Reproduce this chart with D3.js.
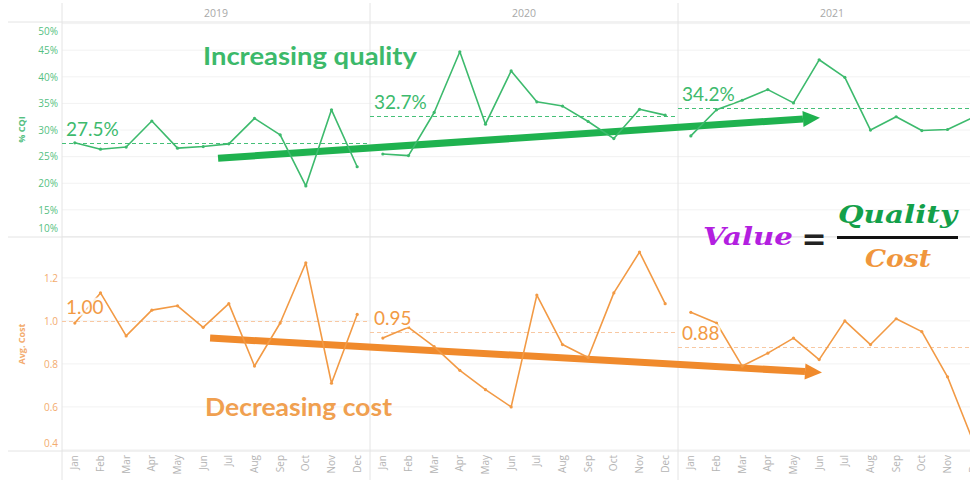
<!DOCTYPE html>
<html>
  <head>
    <meta charset="utf-8">
    <title>Value = Quality / Cost</title>
    <script src="https://cdnjs.cloudflare.com/ajax/libs/d3/7.8.5/d3.min.js"></script>
    <style>
      body { margin: 0; background: #fff; }
    </style>
  </head>
  <body>
    <div id="vis"></div>
    <script>
      var years = ['2019', '2020', '2021'];
      var months = ['Jan', 'Feb', 'Mar', 'Apr', 'May', 'Jun', 'Jul', 'Aug', 'Sep', 'Oct', 'Nov', 'Dec'];

      // % CQI per month, one array per year
      var quality2019 = [27.6, 26.4, 26.8, 31.7, 26.6, 26.9, 27.4, 32.2, 29.1, 19.5, 33.8, 23.1];
      var quality2020 = [25.5, 25.2, 33.3, 44.7, 31.1, 41.1, 35.3, 34.5, 31.6, 28.4, 33.9, 32.8];
      var quality2021 = [28.9, 33.8, 35.6, 37.6, 35.1, 43.2, 39.9, 30.0, 32.5, 29.9, 30.1, 32.4];
      var qualityAvg = [27.5, 32.7, 34.2];

      // average cost per month
      var cost2019 = [0.99, 1.13, 0.93, 1.05, 1.07, 0.97, 1.08, 0.79, 0.99, 1.27, 0.71, 1.03];
      var cost2020 = [0.92, 0.97, 0.88, 0.77, 0.68, 0.60, 1.12, 0.89, 0.83, 1.13, 1.32, 1.08];
      var cost2021 = [1.04, 0.99, 0.79, 0.85, 0.92, 0.82, 1.00, 0.89, 1.01, 0.95, 0.74, 0.44];
      var costAvg = [1.00, 0.95, 0.88];

      var qualityTicks = [10, 15, 20, 25, 30, 35, 40, 45, 50];
      var costTicks = [0.4, 0.6, 0.8, 1.0, 1.2];

      // trend arrows, in (year, month index, value)
      var qualityTrend = [['2019', 5.58, 24.7], ['2021', 5.03, 32.3]];
      var costTrend = [['2019', 5.27, 0.92], ['2021', 5.11, 0.76]];

      var qualitySeries = [quality2019, quality2020, quality2021];
      var costSeries = [cost2019, cost2020, cost2021];

      var W = 970, H = 480, left = 62;
      var green = '#3dba6d', greenLight = '#55bf82', greenDark = '#1fb24f';
      var orange = '#f29a45', orangeLight = '#f3ab6e', orangeDark = '#f08a2c';

      var svg = d3.select('#vis').append('svg')
        .attr('width', W).attr('height', H)
        .attr('font-family', 'Open Sans, sans-serif');

      var xYear = d3.scaleBand().domain(years).range([left, left + 3 * 308]);
      var xMonth = d3.scalePoint().domain(months).range([0, xYear.bandwidth()]).padding(0.5);
      var yQ = d3.scaleLinear().domain([9.9, 50.3]).range([237, 22]);
      var yC = d3.scaleLinear().domain([0.395, 1.39]).range([451, 237]);

      function xAt(year, m) {
        return xYear(year) + xYear.bandwidth() * (m + 0.5) / months.length;
      }

      // grid
      svg.selectAll('line.gq').data(qualityTicks).enter().append('line')
        .attr('x1', left).attr('x2', W)
        .attr('y1', function(d){ return yQ(d); }).attr('y2', function(d){ return yQ(d); })
        .attr('stroke', '#f2f2f2');
      svg.selectAll('line.gc').data(costTicks).enter().append('line')
        .attr('x1', left).attr('x2', W)
        .attr('y1', function(d){ return yC(d); }).attr('y2', function(d){ return yC(d); })
        .attr('stroke', '#f2f2f2');

      // frame lines
      [22, 237, 451].forEach(function(y){
        svg.append('line').attr('x1', 8).attr('x2', W).attr('y1', y).attr('y2', y)
          .attr('stroke', '#e4e4e4');
      });
      years.forEach(function(y){
        svg.append('line').attr('x1', xYear(y)).attr('x2', xYear(y))
          .attr('y1', 3).attr('y2', H).attr('stroke', '#e4e4e4');
      });

      // year headers
      svg.selectAll('text.year').data(years).enter().append('text')
        .attr('x', function(d){ return xYear(d) + xYear.bandwidth() / 2; })
        .attr('y', 17)
        .attr('text-anchor', 'middle')
        .attr('font-size', 10.5)
        .attr('fill', '#a8a8a8')
        .text(function(d){ return d; });

      // y axes
      var axQ = svg.append('g').attr('transform', 'translate(' + left + ',0)')
        .call(d3.axisLeft(yQ).tickValues(qualityTicks).tickSize(0).tickPadding(4)
          .tickFormat(function(d){ return d + '%'; }));
      var axC = svg.append('g').attr('transform', 'translate(' + left + ',0)')
        .call(d3.axisLeft(yC).tickValues(costTicks).tickSize(0).tickPadding(4)
          .tickFormat(d3.format('.1f')));
      [axQ, axC].forEach(function(ax){
        ax.select('.domain').remove();
        ax.attr('font-family', 'Open Sans, sans-serif').attr('font-size', 10);
      });
      axQ.selectAll('text').attr('fill', greenLight);
      axC.selectAll('text').attr('fill', orangeLight);
      // end labels kept inside their pane
      axQ.selectAll('.tick text').filter(function(d){ return d === 50; }).attr('dy', '1.1em');
      axQ.selectAll('.tick text').filter(function(d){ return d === 10; }).attr('dy', '-0.45em');
      axC.selectAll('.tick text').filter(function(d){ return d === 0.4; }).attr('dy', '-0.3em');

      svg.append('text').attr('transform', 'translate(25,' + ((22 + 237) / 2) + ') rotate(-90)')
        .attr('text-anchor', 'middle').attr('font-size', 9).attr('font-weight', 'bold')
        .attr('fill', greenLight).text('% CQI');
      svg.append('text').attr('transform', 'translate(25,' + ((237 + 451) / 2) + ') rotate(-90)')
        .attr('text-anchor', 'middle').attr('font-size', 9).attr('font-weight', 'bold')
        .attr('fill', orangeLight).text('Avg. Cost');

      // month labels
      years.forEach(function(y){
        svg.selectAll('text.m' + y).data(months).enter().append('text')
          .attr('transform', function(d){
            return 'translate(' + (xYear(y) + xMonth(d)) + ',455) rotate(-90)';
          })
          .attr('text-anchor', 'end')
          .attr('dy', '0.35em')
          .attr('font-size', 10)
          .attr('fill', '#b4b4b4')
          .text(function(d){ return d; });
      });

      // trend arrows
      function arrow(pts, yScale, color) {
        var x0 = xAt(pts[0][0], pts[0][1]), y0 = yScale(pts[0][2]);
        var x1 = xAt(pts[1][0], pts[1][1]), y1 = yScale(pts[1][2]);
        var a = Math.atan2(y1 - y0, x1 - x0), hl = 17, hw = 8;
        var bx = x1 - hl * Math.cos(a), by = y1 - hl * Math.sin(a);
        svg.append('line').attr('x1', x0).attr('y1', y0).attr('x2', bx).attr('y2', by)
          .attr('stroke', color).attr('stroke-width', 7);
        svg.append('path')
          .attr('d', 'M' + x1 + ',' + y1 +
            'L' + (bx + hw * Math.sin(a)) + ',' + (by - hw * Math.cos(a)) +
            'L' + (bx - hw * Math.sin(a)) + ',' + (by + hw * Math.cos(a)) + 'Z')
          .attr('fill', color);
      }
      arrow(qualityTrend, yQ, greenDark);
      arrow(costTrend, yC, orangeDark);

      // monthly lines
      function series(data, yScale, color, cls) {
        years.forEach(function(y, i){
          var line = d3.line()
            .x(function(d, j){ return xYear(y) + xMonth(months[j]); })
            .y(function(d){ return yScale(d); });
          svg.append('path').datum(data[i])
            .attr('d', line)
            .attr('fill', 'none')
            .attr('stroke', color)
            .attr('stroke-width', 1.6)
            .attr('stroke-linejoin', 'round');
          svg.selectAll('circle.' + cls + y).data(data[i]).enter().append('circle')
            .attr('cx', function(d, j){ return xYear(y) + xMonth(months[j]); })
            .attr('cy', function(d){ return yScale(d); })
            .attr('r', 1.6)
            .attr('fill', color);
        });
      }

      // average lines and labels
      function averages(avg, yScale, color, labelColor, fmt) {
        svg.selectAll(null).data(avg).enter().append('line')
          .attr('x1', function(d, i){ return xYear(years[i]); })
          .attr('x2', function(d, i){ return xYear(years[i]) + xYear.bandwidth(); })
          .attr('y1', function(d){ return Math.round(yScale(d)) + 0.5; })
          .attr('y2', function(d){ return Math.round(yScale(d)) + 0.5; })
          .attr('stroke', color)
          .attr('stroke-dasharray', '4,3');
        return function(){
          svg.selectAll(null).data(avg).enter().append('text')
            .attr('x', function(d, i){ return xYear(years[i]) + 4; })
            .attr('y', function(d){ return yScale(d) - 7; })
            .attr('font-family', 'Lato')
            .attr('font-size', 19)
            .attr('fill', labelColor)
            .attr('stroke', '#fff').attr('stroke-width', 5).attr('stroke-opacity', 0.85)
            .attr('paint-order', 'stroke')
            .text(fmt);
        };
      }

      var qLabels = averages(qualityAvg, yQ, '#45c078', green, function(d){ return d.toFixed(1) + '%'; });
      var cLabels = averages(costAvg, yC, '#f8c8a2', orange, function(d){ return d.toFixed(2); });
      series(qualitySeries, yQ, green, 'q');
      series(costSeries, yC, orange, 'c');
      qLabels();
      cLabels();

      // annotations
      svg.append('text').attr('x', 203).attr('y', 65)
        .attr('font-family', 'Lato').attr('font-weight', 'bold').attr('font-size', 24)
        .attr('textLength', 214).attr('lengthAdjust', 'spacingAndGlyphs')
        .attr('fill', '#3cb96a').text('Increasing quality');
      svg.append('text').attr('x', 205).attr('y', 416)
        .attr('font-family', 'Lato').attr('font-weight', 'bold').attr('font-size', 24)
        .attr('textLength', 187).attr('lengthAdjust', 'spacingAndGlyphs')
        .attr('fill', '#f0a050').text('Decreasing cost');

      // Value = Quality / Cost
      var f = svg.append('g').attr('font-family', 'DejaVu Serif')
        .attr('font-style', 'italic').attr('font-weight', 'bold').attr('font-size', 25);
      f.append('text').attr('x', 703).attr('y', 245)
        .attr('textLength', 90).attr('lengthAdjust', 'spacingAndGlyphs')
        .attr('fill', '#b31fe0').text('Value');
      f.append('text').attr('x', 814).attr('y', 249).attr('text-anchor', 'middle')
        .attr('font-family', 'DejaVu Sans').attr('font-size', 30)
        .attr('font-style', 'normal').attr('font-weight', 'bold').attr('fill', '#222').text('=');
      f.append('text').attr('x', 838).attr('y', 223)
        .attr('textLength', 119).attr('lengthAdjust', 'spacingAndGlyphs')
        .attr('fill', '#13a04a').text('Quality');
      f.append('line').attr('x1', 837).attr('x2', 958).attr('y1', 237.5).attr('y2', 237.5)
        .attr('stroke', '#111').attr('stroke-width', 2.8);
      f.append('text').attr('x', 865).attr('y', 267)
        .attr('textLength', 66).attr('lengthAdjust', 'spacingAndGlyphs')
        .attr('fill', '#f0963c').text('Cost');
    </script>
  </body>
</html>
